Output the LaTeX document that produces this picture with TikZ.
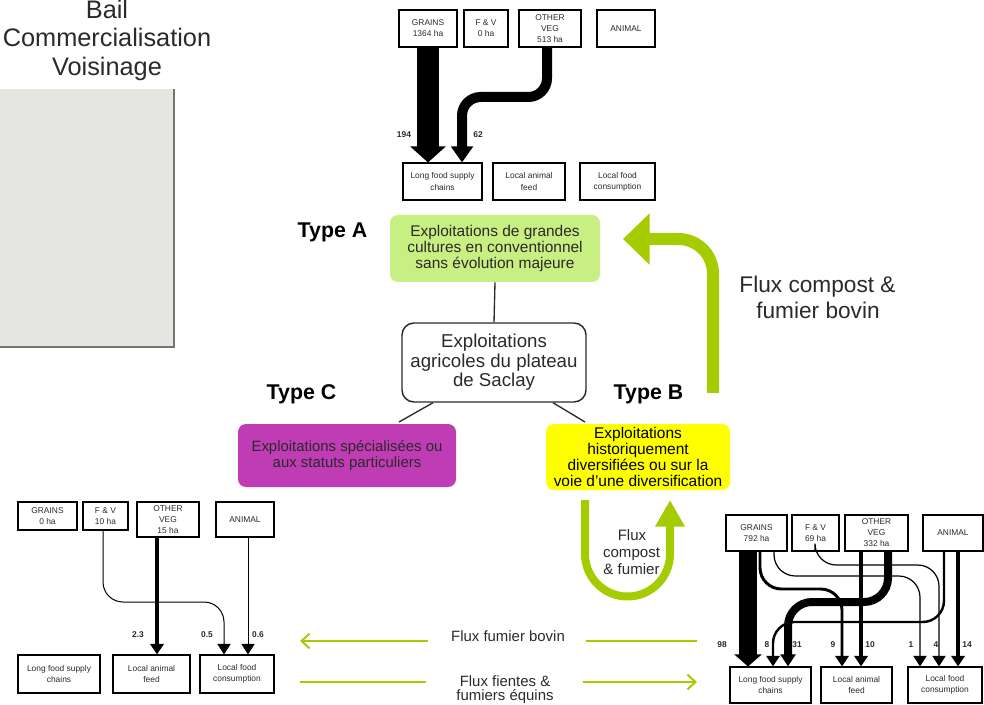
\documentclass[tikz,border=0pt]{standalone}
\usepackage{fontspec}
\setmainfont{Liberation Sans}
\usetikzlibrary{arrows.meta}
\definecolor{flux}{HTML}{A4CC00}
\definecolor{typea}{HTML}{C8EF82}
\definecolor{typec}{HTML}{C03CB5}
\definecolor{typeb}{HTML}{FFFF00}
\definecolor{panel}{HTML}{E5E5E1}
\definecolor{panelb}{HTML}{7A736C}
\definecolor{txt}{HTML}{2A2A2A}
\begin{document}
\begin{tikzpicture}[x=0.75pt,y=-0.75pt,
  fbox/.style={draw=black, line width=0.8pt, inner sep=0pt, align=center,
    font=\fontsize{6.3}{8.3}\selectfont, text=txt},
  fnum/.style={font=\bfseries\fontsize{6.3}{7}\selectfont, text=txt, inner sep=0pt},
  flow/.style={draw=black, line cap=butt, -{Triangle[width=10pt,length=8pt]}},
  typebox/.style={rounded corners=6pt, inner sep=0pt, align=center, text=txt},
  typelbl/.style={font=\bfseries\fontsize{16}{18}\selectfont, text=black, anchor=base, inner sep=0pt},
  fluxline/.style={draw=flux, line width=1.5pt},
  fluxtxt/.style={font=\fontsize{11.2}{13}\selectfont, text=txt, anchor=base, inner sep=0pt},
  link/.style={draw=txt, line width=1pt}
]
\useasboundingbox (0,0) rectangle (984,705);

% left panel
\fill[panel] (0,89) rectangle (174,347);
\draw[panelb, line width=1.5pt] (174,89) -- (174,347) -- (0,347);
\node[anchor=base, font=\fontsize{19}{22}\selectfont, text=txt, inner sep=0pt] (bail) at (107,19) {Bail};
\node[anchor=base, font=\fontsize{19}{22}\selectfont, text=txt, inner sep=0pt] (comm) at (107,47) {Commercialisation};
\node[anchor=base, font=\fontsize{19}{22}\selectfont, text=txt, inner sep=0pt] (vois) at (107,75.5) {Voisinage};

% ---------- top flow diagram ----------
\node[fbox, minimum width=43.5pt, minimum height=27.75pt] (tg) at (428,28.5) {GRAINS\\1364 ha};
\node[fbox, minimum width=33pt, minimum height=27.75pt] (tfv) at (486,28.5) {F \& V\\0 ha};
\node[fbox, minimum width=46.5pt, minimum height=27.75pt] (tov) at (550,28.5) {OTHER\\VEG\\513 ha};
\node[fbox, minimum width=43.5pt, minimum height=27.75pt] (tan) at (626,28.5) {ANIMAL};
\node[fbox, minimum width=59.25pt, minimum height=27.75pt] (tl) at (442.5,181.5) {Long food supply\\chains};
\node[fbox, minimum width=54pt, minimum height=27.75pt] (taf) at (529,181.5) {Local animal\\feed};
\node[fbox, minimum width=56.25pt, minimum height=27.75pt] (tlc) at (617.5,181.5) {Local food\\consumption};

\draw[flow, line width=16.5pt, -{Triangle[width=26pt,length=12pt]}] (428,0 |- tg.south) -- (428,0 |- tl.north);
\draw[flow, line width=7.5pt, rounded corners=14pt, -{Triangle[width=16pt,length=12pt]}]
  (547,0 |- tov.south) -- (547,97) -- (462,97) -- (462,0 |- tl.north);
\node[fnum] (n194) at (404,135) {194};
\node[fnum] (n62) at (478,135) {62};

% ---------- central diagram ----------
\node[typebox, fill=typea, minimum width=157.5pt, minimum height=50.25pt,
  font=\fontsize{11.6}{12}\selectfont] (ta) at (495,248.5)
  {Exploitations de grandes\\cultures en conventionnel\\sans évolution majeure};
\node[draw=txt, line width=1.1pt, rounded corners=9pt, inner sep=0pt, align=center, text=txt,
  minimum width=138pt, minimum height=59.25pt, font=\fontsize{14}{14.6}\selectfont] (central) at (494,362.5)
  {Exploitations\\agricoles du plateau\\de Saclay};
\node[typebox, fill=typec, minimum width=163.5pt, minimum height=47.25pt,
  font=\fontsize{11.2}{12.5}\selectfont] (tc) at (347,455.5)
  {Exploitations spécialisées ou\\aux statuts particuliers};
\node[typebox, fill=typeb, minimum width=138pt, minimum height=49.5pt,
  font=\fontsize{11.6}{12.2}\selectfont, text=black] (tb) at (638,457)
  {Exploitations\\historiquement\\diversifiées ou sur la\\voie d’une diversification};

\node[typelbl] (la) at (332.5,238) {Type A};
\node[typelbl] (lc) at (301.5,400) {Type C};
\node[typelbl] (lb) at (648.5,400) {Type B};

\draw[link] (ta.south) -- (central.north);
\draw[link] (433,0 |- central.south) -- (399,422);
\draw[link] (553,0 |- central.south) -- (585,422);

% big green arrow
\coordinate (gA) at (713,393);
\coordinate (gB) at (623,239);
\draw[draw=flux, line width=9pt, rounded corners=26pt, -{Triangle[width=37.5pt,length=20pt]}]
  (gA) -- (713,239) -- (gB);
\node[anchor=base, font=\fontsize{17}{20}\selectfont, text=txt, inner sep=0pt] (fc1) at (817.5,293) {Flux compost \&};
\node[anchor=base, font=\fontsize{17}{20}\selectfont, text=txt, inner sep=0pt] (fc2) at (818,319) {fumier bovin};

% U-turn arrow
\coordinate (uA) at (585,500);
\coordinate (uB) at (670,500);
\draw[draw=flux, line width=6pt, -{Triangle[width=21pt,length=20pt]}]
  (uA) -- (585,554) arc[start angle=180, end angle=0, radius=42.5] -- (uB);
\node[anchor=base, font=\fontsize{11.3}{13}\selectfont, text=txt, inner sep=0pt] (u1) at (632,540) {Flux};
\node[anchor=base, font=\fontsize{11.3}{13}\selectfont, text=txt, inner sep=0pt] (u2) at (631.5,557) {compost};
\node[anchor=base, font=\fontsize{11.3}{13}\selectfont, text=txt, inner sep=0pt] (u3) at (631.5,574) {\& fumier};

% bottom flux arrows
\node[fluxtxt] (ffb) at (508,641) {Flux fumier bovin};
\coordinate (f1a) at (300,641); \coordinate (f1b) at (428,641);
\coordinate (f1c) at (586,641); \coordinate (f1d) at (697,641);
\draw[fluxline, -{Straight Barb[length=6pt,width=11pt]}] (f1b) -- (f1a);
\draw[fluxline] (f1c) -- (f1d);
\node[fluxtxt] (ffe1) at (505,686) {Flux fientes \&};
\node[fluxtxt] (ffe2) at (505,700.5) {fumiers équins};
\coordinate (f2a) at (300,682); \coordinate (f2b) at (426,682);
\coordinate (f2c) at (583,682); \coordinate (f2d) at (697,682);
\draw[fluxline] (f2a) -- (f2b);
\draw[fluxline, -{Straight Barb[length=6pt,width=11pt]}] (f2c) -- (f2d);

% ---------- bottom-left flow diagram ----------
\node[fbox, minimum width=44.25pt, minimum height=21pt] (lg) at (47.5,516) {GRAINS\\0 ha};
\node[fbox, minimum width=33.75pt, minimum height=21pt] (lfv) at (105.5,516) {F \& V\\10 ha};
\node[fbox, minimum width=46.5pt, minimum height=26.25pt] (lov) at (168,519.5) {OTHER\\VEG\\15 ha};
\node[fbox, minimum width=43.5pt, minimum height=26.25pt] (lan) at (245,519.5) {ANIMAL};
\node[fbox, minimum width=61.5pt, minimum height=28.5pt] (ll) at (59,674) {Long food supply\\chains};
\node[fbox, minimum width=57.75pt, minimum height=28.5pt] (laf) at (151.5,674) {Local animal\\feed};
\node[fbox, minimum width=55.5pt, minimum height=28.5pt] (llc) at (237,674) {Local food\\consumption};

\draw[flow, line width=0.75pt, rounded corners=15pt] (103,0 |- lfv.south) -- (103,602) -- (224,602) -- (224,0 |- llc.north);
\draw[flow, line width=3.5pt] (157,0 |- lov.south) -- (157,0 |- laf.north);
\draw[flow, line width=0.75pt] (248,0 |- lan.south) -- (248,0 |- llc.north);
\node[fnum] (n23) at (138,635) {2.3};
\node[fnum] (n05) at (207,635) {0.5};
\node[fnum] (n06) at (258,635) {0.6};

% ---------- bottom-right flow diagram ----------
\node[fbox, minimum width=45.75pt, minimum height=27pt] (rg) at (756.5,533) {GRAINS\\792 ha};
\node[fbox, minimum width=35.25pt, minimum height=27pt] (rfv) at (815.5,533) {F \& V\\69 ha};
\node[fbox, minimum width=47.25pt, minimum height=27pt] (rov) at (876.5,533) {OTHER\\VEG\\332 ha};
\node[fbox, minimum width=45pt, minimum height=27pt] (ran) at (953,533) {ANIMAL};
\node[fbox, minimum width=60.75pt, minimum height=27pt] (rl) at (770.5,685) {Long food supply\\chains};
\node[fbox, minimum width=53.25pt, minimum height=27pt] (raf) at (856.5,685) {Local animal\\feed};
\node[fbox, minimum width=55.5pt, minimum height=27pt] (rlc) at (945,685) {Local food\\consumption};

\draw[flow, line width=0.9pt, rounded corners=16pt] (774,0 |- rg.south) -- (774,576) -- (920,576) -- (920,0 |- rlc.north);
\draw[flow, line width=0.9pt, rounded corners=16pt] (815,0 |- rfv.south) -- (815,565) -- (939,565) -- (939,0 |- rlc.north);
\draw[flow, line width=2.2pt, rounded corners=16pt] (760,0 |- rg.south) -- (760,589) -- (842,589) -- (842,0 |- raf.north);
\draw[flow, line width=1.8pt, rounded corners=16pt] (944,0 |- ran.south) -- (944,622) -- (773,622) -- (773,0 |- rl.north);
\draw[flow, line width=3pt] (861,0 |- rov.south) -- (861,0 |- raf.north);
\draw[flow, line width=3pt] (958,0 |- ran.south) -- (958,0 |- rlc.north);
\draw[flow, line width=6pt, rounded corners=18pt, -{Triangle[width=11pt,length=9pt]}] (888,0 |- rov.south) -- (888,602) -- (788,602) -- (788,0 |- rl.north);
\draw[flow, line width=13.5pt, -{Triangle[width=20pt,length=9pt]}] (748,0 |- rg.south) -- (748,0 |- rl.north);

\node[fnum] (n98) at (722,645) {98};
\node[fnum] (n8) at (767,645) {8};
\node[fnum] (n31) at (797,645) {31};
\node[fnum] (n9) at (833,645) {9};
\node[fnum] (n10) at (870,645) {10};
\node[fnum] (n1) at (911,645) {1};
\node[fnum] (n4) at (936,645) {4};
\node[fnum] (n14) at (967,645) {14};
\end{tikzpicture}
\end{document}
